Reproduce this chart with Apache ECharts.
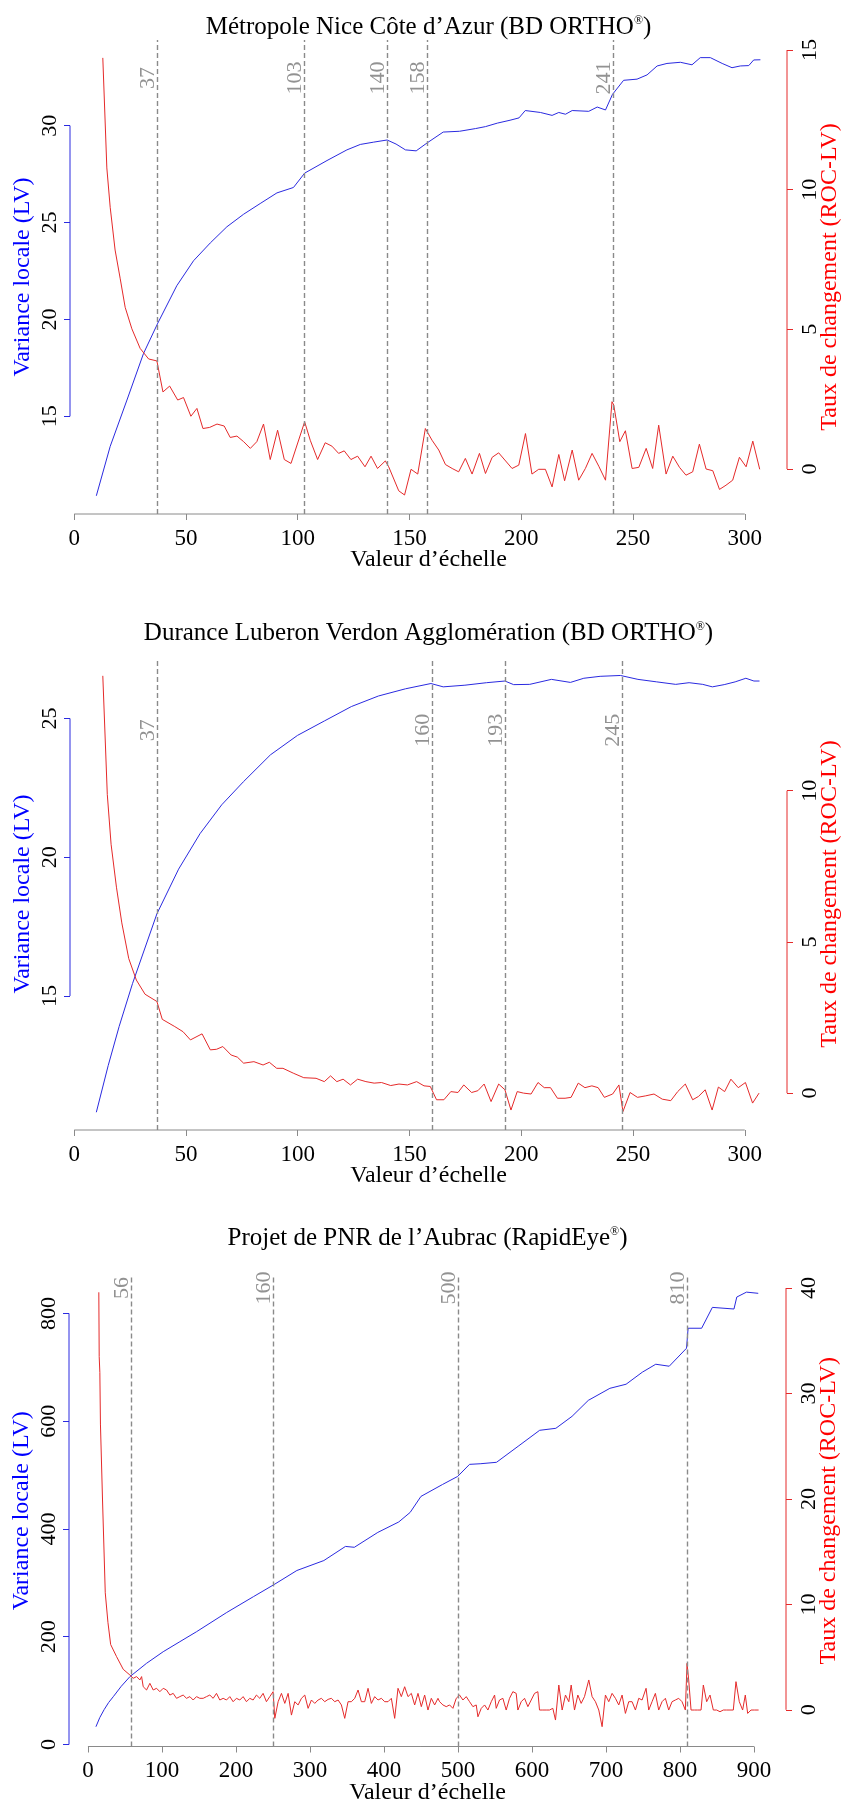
<!DOCTYPE html>
<html><head><meta charset="utf-8">
<script src="https://cdn.jsdelivr.net/npm/echarts@6/dist/echarts.min.js"></script>
<style>html,body{margin:0;padding:0;background:#fff}#c{width:847px;height:1808px}</style>
</head><body><div id="c"></div>
<script>
// ---------- Chart 1 : Métropole Nice Côte d'Azur ----------
const niceLV = [[9.9,10.9],[16.1,13.45],[23.6,15.84],[31,18.24],[37.4,19.81],[45.9,21.74],[53.4,23.03],[60.9,23.95],[68.3,24.78],[75.8,25.43],[83.2,25.98],[90.7,26.53],[98.1,26.81],[103.1,27.55],[113.1,28.2],[122,28.75],[128,29.03],[134,29.15],[140,29.26],[144,29.05],[148.2,28.75],[153,28.7],[157.9,29.11],[165.1,29.67],[172.4,29.71],[179.6,29.85],[184,29.95],[189.3,30.13],[195,30.28],[199,30.4],[201.8,30.78],[208.6,30.68],[213.8,30.53],[216.8,30.68],[219.8,30.59],[222.8,30.78],[230.2,30.74],[234,30.96],[237.7,30.81],[240.8,31.61],[245.8,32.34],[251.8,32.4],[256.3,32.62],[260.8,33.08],[265.2,33.21],[271.2,33.27],[276.4,33.14],[280.1,33.51],[284.6,33.51],[289.9,33.21],[294.3,32.99],[298,33.08],[301.8,33.1],[304,33.39],[307,33.4]];
const niceROC = [[12.8,14.72],[14.6,10.78],[16.1,9.37],[18.3,7.84],[20.6,6.81],[22.8,5.79],[25.8,5.02],[29.5,4.32],[33.3,3.94],[37,3.87],[39.7,2.76],[42.7,2.97],[46.3,2.47],[48.9,2.56],[52.2,1.89],[54.9,2.17],[57.6,1.45],[60.6,1.49],[63.9,1.61],[67.1,1.54],[69.8,1.13],[72.8,1.18],[75.8,0.98],[78.8,0.74],[81.7,0.98],[84.7,1.61],[87.7,0.34],[91,1.39],[94,0.34],[97,0.2],[99.7,0.86],[103.1,1.69],[105.6,1.03],[108.9,0.34],[112.3,0.94],[115.3,0.82],[118.3,0.56],[120.8,0.65],[123.8,0.34],[126.8,0.46],[130.1,0.08],[132.8,0.46],[135.7,0.02],[139.2,0.29],[140.7,0.08],[145.2,-0.78],[147.8,-0.93],[150.7,-0.01],[153.7,-0.18],[157.1,1.45],[160.1,1.03],[163.1,0.68],[166.1,0.16],[169.1,0.02],[172,-0.1],[175,0.38],[178,-0.18],[181.3,0.56],[184,-0.16],[187,0.42],[189.9,0.58],[195.9,0.02],[198.9,0.14],[201.9,1.27],[204.8,-0.18],[207.8,-0.01],[210.8,-0.01],[213.8,-0.64],[216.8,0.52],[219.4,-0.42],[222.8,0.68],[225.7,-0.4],[228.7,0.02],[231.7,0.56],[234.7,0.1],[237.7,-0.4],[240.6,2.41],[241.4,2.29],[244.1,0.98],[246.6,1.37],[249.6,0.02],[252.6,0.06],[255.9,0.74],[258.8,0.02],[261.5,1.57],[264.8,-0.18],[267.8,0.46],[270.8,0.06],[273.7,-0.22],[276.7,-0.1],[279.7,0.89],[282.7,0],[285.7,-0.06],[288.7,-0.73],[291.6,-0.58],[294.6,-0.4],[297.6,0.42],[300.6,0.08],[303.6,1.0],[306.7,-0.01]];
const niceMarks = [37,103,140,158,241];
const niceMarkLabels = ['37','103','140','158','241'];

// ---------- Chart 2 : Durance Luberon Verdon ----------
const durLV = [[9.9,10.81],[15.2,12.49],[20.1,13.9],[26.1,15.45],[37,17.96],[46.7,19.57],[56.3,20.85],[66,21.89],[75.7,22.72],[87.8,23.69],[99.9,24.39],[111.9,24.91],[124,25.43],[136.1,25.81],[148.2,26.07],[159.6,26.26],[165.1,26.14],[174.8,26.2],[184.5,26.29],[192.7,26.35],[196.6,26.22],[203.8,26.23],[213.5,26.41],[222,26.3],[228,26.45],[235.3,26.52],[244.4,26.55],[252.2,26.41],[260.6,26.32],[269.1,26.23],[275.1,26.29],[281.2,26.23],[285.5,26.14],[290.8,26.22],[295.7,26.32],[300.5,26.45],[304.1,26.35],[306.6,26.35]];
const durROC = [[12.8,13.8],[14.8,9.88],[16.5,8.23],[18.9,6.81],[21.3,5.63],[24.4,4.45],[27.8,3.74],[31.7,3.27],[37,3.03],[39.4,2.44],[45,2.2],[48.7,2.03],[52,1.76],[57.2,1.96],[60.9,1.43],[63.7,1.45],[66.5,1.54],[70.2,1.26],[73,1.19],[75.8,0.99],[80.4,1.04],[84.5,0.93],[87.3,1.02],[90.6,0.82],[93.4,0.82],[98,0.66],[102.7,0.51],[108.2,0.49],[111.9,0.38],[114.7,0.57],[117.5,0.38],[120.3,0.46],[123.6,0.27],[126.8,0.46],[130.5,0.38],[134.2,0.33],[137.5,0.35],[141.6,0.25],[145.3,0.3],[149.1,0.27],[153.2,0.38],[156.5,0.24],[159.3,0.22],[162.1,-0.22],[165.4,-0.22],[168.5,0.05],[171.7,0.02],[174.3,0.27],[177.8,0.02],[180.6,0.08],[183.4,0.3],[186.5,-0.28],[189.9,0.3],[192.7,0.11],[195.4,-0.56],[198.2,0.05],[201,0],[204.4,-0.03],[207.5,0.35],[210.3,0.18],[213.1,0.18],[216.2,-0.17],[219.6,-0.17],[222.3,-0.14],[225.5,0.33],[228.5,0.18],[231.6,0.24],[234.4,0.18],[237.2,-0.14],[240.9,-0.03],[243.7,0.27],[245.5,-0.61],[248.7,0.02],[252,-0.14],[255.7,-0.09],[259.4,-0.03],[263.1,-0.2],[266.9,-0.25],[270,0.05],[273.4,0.3],[276.7,-0.22],[279.3,-0.11],[282.3,0.11],[285.4,-0.56],[288.2,0.2],[291,0.05],[293.8,0.46],[297.1,0.18],[300.3,0.35],[303.5,-0.33],[306.4,0]];
const durMarks = [37,160,193,245];
const durMarkLabels = ['37','160','193','245'];

// ---------- Chart 3 : PNR de l'Aubrac ----------
const aubLV = [[10.8,33],[16,50],[22,65],[28,78],[34.2,88.7],[45,108],[56.7,125.9],[79.2,150.7],[101.7,172.2],[124.2,190.8],[146.7,209.3],[187.5,245],[223.9,274.6],[251.6,296.9],[282.3,322.9],[318.8,341.4],[348,367.6],[360,366],[391.7,393.6],[420,413],[435.4,430.7],[450,460.4],[479.2,482.6],[499.6,497.5],[515.7,519.9],[530,521],[552.1,523.7],[581.3,553.4],[610.4,583.1],[632.3,586.8],[654.2,609],[676.2,638.7],[705.3,661],[727.2,668.6],[749.1,690.9],[767.3,705.7],[785.5,702],[808.9,735.4],[811,772.5],[829.3,772.5],[843.8,811.2],[873,808.2],[876.8,830.4],[889.9,839.5],[905.8,837.3]];
const aubROC = [[14.7,39.6],[15.2,33.5],[16.1,32],[16.9,27.1],[19.7,19.9],[23.4,11.1],[27,8.3],[30.7,6.19],[38.7,5.04],[47.7,3.84],[56.7,3.3],[61.2,2.99],[65.7,3.15],[70.2,2.83],[72.5,3.15],[74.7,2.19],[79.2,1.88],[83.7,2.51],[88.2,1.88],[92.7,2.04],[97.2,1.72],[101.7,2.04],[106.2,1.88],[110.7,1.4],[115.2,1.56],[119.7,1.09],[124.2,1.25],[128.7,1.4],[133.2,1.09],[137.7,1.25],[142.2,0.93],[146.7,1.25],[151.2,1.09],[155.7,1.09],[160.2,1.25],[164.7,1.4],[169.2,1.09],[173.7,1.56],[178.2,0.93],[182.7,1.09],[187.2,0.93],[191.7,1.25],[196.2,0.77],[200.7,1.09],[205.2,0.93],[209.7,1.25],[214.2,0.77],[218.7,1.09],[223.2,0.93],[227.7,1.4],[232.2,1.09],[236.7,1.56],[241.2,0.77],[245.7,1.25],[250.2,1.72],[252.5,-0.81],[257,0.77],[261.5,1.56],[266,0.61],[270.5,1.56],[275,-0.5],[279.5,0.77],[284,0.46],[288.5,1.09],[293,1.4],[297.5,0.14],[302,0.93],[306.5,0.61],[311,0.93],[315.5,1.09],[320,0.77],[324.5,0.99],[329,1.09],[333.5,0.77],[338,0.93],[342.5,0.46],[347,-0.81],[351.5,0.77],[356,0.77],[360.5,1.09],[365,1.88],[369.5,0.77],[374,0.77],[378.5,2.04],[383,0.61],[387.5,1.25],[392,0.93],[396.5,1.09],[401,0.77],[405.5,0.77],[410,1.09],[414.5,-0.81],[419,2.04],[423.5,1.25],[428,2.19],[432.5,1.25],[437,1.56],[441.5,0.46],[446,1.56],[450.5,0.3],[455,1.4],[459.5,-0.02],[464,1.09],[468.5,0.46],[473,1.09],[475.2,0.77],[479.7,0.46],[484.2,0.3],[488.7,0.46],[493.2,0.14],[497.7,1.09],[502.2,1.4],[506.7,0.93],[511.2,1.25],[515.7,0.77],[520.2,0.3],[524.7,0.46],[527,-0.66],[531.5,0.14],[536,0.46],[540.5,-0.02],[545,0.77],[549.5,1.4],[551.7,0.14],[556.2,0.93],[560.7,1.09],[565.2,-0.02],[569.7,1.09],[574.2,1.72],[578.7,1.56],[581,-0.02],[585.5,0.77],[590,1.09],[594.5,0.3],[599,0.93],[603.5,1.56],[608,1.72],[610.2,-0.02],[614.7,-0.02],[619.2,-0.02],[623.7,-0.02],[628.2,0.14],[631.8,-0.97],[636.3,2.35],[640.8,-0.02],[645.3,1.4],[649.8,0.77],[653,2.35],[657.5,-0.02],[662,1.4],[666.5,0.61],[671,1.25],[676.8,2.83],[681.3,1.25],[685.8,0.77],[690.3,-0.02],[694.8,-1.6],[699.3,1.4],[703.8,0.77],[708.3,1.56],[712.8,1.09],[717.3,0.46],[721.8,1.4],[726.3,-0.34],[730.8,0.77],[735.3,0.77],[739.8,-0.02],[744.3,1.09],[748.8,0.93],[754.2,2.04],[757.8,-0.02],[762.3,0.77],[766.8,1.56],[771.3,-0.02],[775.8,0.77],[780.3,1.09],[784.8,-0.02],[789.3,0.77],[793.8,0.93],[798.3,1.09],[802.8,0.77],[807.3,-0.02],[809.6,4.41],[811.8,2.83],[815,-0.02],[819.5,-0.02],[824,-0.02],[828.5,-0.02],[831.6,2.35],[836.1,0.77],[840.6,1.4],[845.1,-0.02],[849.6,-0.02],[854.1,-0.18],[858.6,-0.02],[863.1,-0.02],[867.6,-0.02],[872.1,-0.02],[875.7,2.67],[880.2,0.77],[884.7,-0.02],[888.3,1.4],[891.5,-0.34],[896,-0.02],[900.5,-0.02],[906.3,-0.02]];
const aubMarks = [58,250,500,810];
const aubMarkLabels = ['56','160','500','810'];

// ---------- ticks ----------
const xTicks300 = [0,50,100,150,200,250,300];
const xTicks900 = [0,100,200,300,400,500,600,700,800,900];
const niceLVTicks = [15,20,25,30];
const niceROCTicks = [0,5,10,15];
const durLVTicks = [15,20,25];
const durROCTicks = [0,5,10];
const aubLVTicks = [0,200,400,600,800];
const aubROCTicks = [0,10,20,30,40];

const FONT = 'Liberation Serif';
const BLUE = '#2a2ae0', RED = '#e52a2a', GRAY = '#8a8a8a';

const charts = [
  {title:['Métropole Nice Côte d’Azur (BD ORTHO','®',')'], titleTop:15,
   lv:niceLV, roc:niceROC, marks:niceMarks, markLabels:niceMarkLabels, markLabelY:14,
   xTicks:xTicks300, lvTicks:niceLVTicks, rocTicks:niceROCTicks,
   grid:{left:70,top:40,width:717,height:474}, xRange:[-1.88,318.9], lvRange:[9.96,34.42], rocRange:[-1.61,15.36]},
  {title:['Durance Luberon Verdon Agglomération (BD ORTHO','®',')'], titleTop:621,
   lv:durLV, roc:durROC, marks:durMarks, markLabels:durMarkLabels, markLabelY:12,
   xTicks:xTicks300, lvTicks:durLVTicks, rocTicks:durROCTicks,
   grid:{left:70,top:658,width:717,height:472}, xRange:[-1.88,318.9], lvRange:[10.17,27.18], rocRange:[-1.22,14.39]},
  {title:['Projet de PNR de l’Aubrac (RapidEye','®',')'], titleTop:1226,
   lv:aubLV, roc:aubROC, marks:aubMarks, markLabels:aubMarkLabels, markLabelY:40,
   xTicks:xTicks900, lvTicks:aubLVTicks, rocTicks:aubROCTicks,
   grid:{left:69,top:1275,width:717,height:471.5}, xRange:[-25.6,943.3], lvRange:[-3.7,871.3], rocRange:[-3.48,41.24]}
];

const last = a => a[a.length-1];
const option = {animation:false, backgroundColor:'#fff', title:[], grid:[], xAxis:[], yAxis:[], series:[]};

charts.forEach((c,i)=>{
  const yl = 2*i, yr = 2*i+1;
  option.title.push({
    text:'{t|'+c.title[0]+'}{r|'+c.title[1]+'}{t|'+c.title[2]+'}',
    left:c.grid.left + c.grid.width/2, textAlign:'center', top:c.titleTop, padding:0,
    textStyle:{fontFamily:FONT, fontSize:25, fontWeight:'normal', color:'#000',
      rich:{t:{fontFamily:FONT,fontSize:25,color:'#000'}, r:{fontFamily:FONT,fontSize:12,color:'#000',verticalAlign:'top'}}}
  });
  option.grid.push(Object.assign({outerBoundsMode:'none', containLabel:false}, c.grid));
  option.xAxis.push({type:'value', gridIndex:i, min:c.xRange[0], max:c.xRange[1],
    splitLine:{show:false}, axisLine:{show:false, onZero:false},
    axisTick:{show:true, customValues:c.xTicks, length:6, lineStyle:{color:GRAY}},
    axisLabel:{show:true, customValues:c.xTicks, margin:13, fontFamily:FONT, fontSize:23, color:'#000'},
    name:'Valeur d’échelle', nameLocation:'middle', nameGap:34, nameMoveOverlap:false,
    nameTextStyle:{fontFamily:FONT, fontSize:24, color:'#000'}});
  option.yAxis.push({type:'value', gridIndex:i, position:'left', min:c.lvRange[0], max:c.lvRange[1],
    splitLine:{show:false}, axisLine:{show:false, onZero:false},
    axisTick:{show:true, customValues:c.lvTicks, length:6, lineStyle:{color:BLUE}},
    axisLabel:{show:true, customValues:c.lvTicks, rotate:90, margin:9, fontFamily:FONT, fontSize:22, color:'#000'},
    name:'Variance locale (LV)', nameLocation:'middle', nameGap:35, nameMoveOverlap:false,
    nameTextStyle:{fontFamily:FONT, fontSize:24, color:'#0000ff'}});
  option.yAxis.push({type:'value', gridIndex:i, position:'right', min:c.rocRange[0], max:c.rocRange[1],
    splitLine:{show:false}, axisLine:{show:false, onZero:false},
    axisTick:{show:true, customValues:c.rocTicks, length:6, lineStyle:{color:RED}},
    axisLabel:{show:true, customValues:c.rocTicks, rotate:90, margin:12, fontFamily:FONT, fontSize:22, color:'#000'},
    name:'Taux de changement (ROC-LV)', nameLocation:'middle', nameGap:31, nameMoveOverlap:false,
    nameTextStyle:{fontFamily:FONT, fontSize:24, color:'#ff0000'}});

  const spine = (yi, pts, color) => ({type:'line', xAxisIndex:i, yAxisIndex:yi, data:pts, symbol:'none',
    clip:false, silent:true, lineStyle:{color:color, width:1}, z:2});
  option.series.push(spine(yl, [[c.xTicks[0], c.lvRange[0]], [last(c.xTicks), c.lvRange[0]]], GRAY));
  option.series.push(spine(yl, [[c.xRange[0], c.lvTicks[0]], [c.xRange[0], last(c.lvTicks)]], BLUE));
  option.series.push(spine(yr, [[c.xRange[1], c.rocTicks[0]], [c.xRange[1], last(c.rocTicks)]], RED));

  option.series.push({type:'line', name:'LV', xAxisIndex:i, yAxisIndex:yl, data:c.lv, symbol:'none',
    silent:true, lineStyle:{color:BLUE, width:1}, itemStyle:{color:BLUE}, z:3});
  option.series.push({type:'line', name:'ROC', xAxisIndex:i, yAxisIndex:yr, data:c.roc, symbol:'none',
    silent:true, lineStyle:{color:RED, width:1}, itemStyle:{color:RED}, z:3,
    markLine:{silent:true, symbol:'none', label:{show:false},
      lineStyle:{color:GRAY, type:[5,3], width:1.4}, data:c.marks.map(x=>({xAxis:x}))}});
  option.series.push({type:'scatter', xAxisIndex:i, yAxisIndex:yr, symbolSize:1, silent:true, clip:false,
    itemStyle:{color:'rgba(0,0,0,0)'},
    data:c.marks.map((x,k)=>({value:[x, c.markLabelY], label:{formatter:c.markLabels[k]}})),
    label:{show:true, position:'inside', rotate:90, offset:[0,-9], fontFamily:FONT, fontSize:22, color:'#777'}});
});

const chart = echarts.init(document.getElementById('c'), null, {renderer:'canvas'});
chart.setOption(option);
</script></body></html>
